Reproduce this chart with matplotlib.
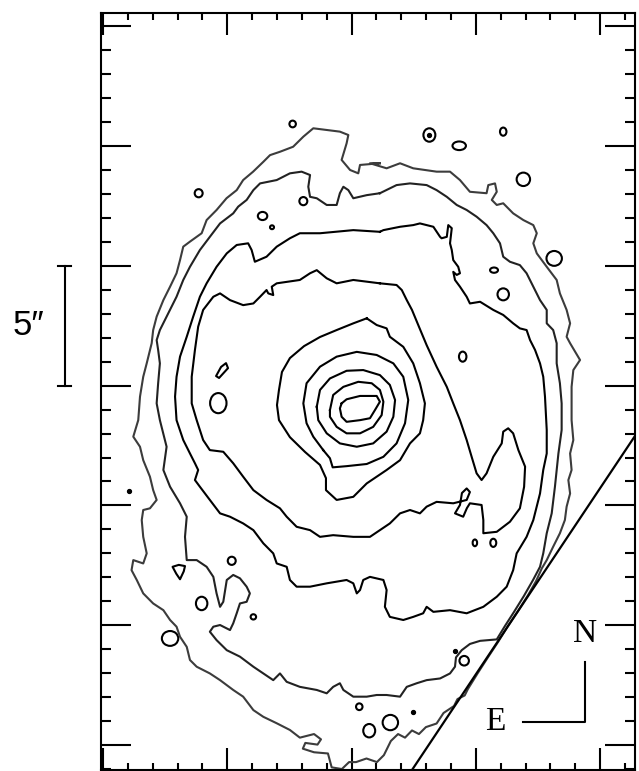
"""
重繪星系等亮度輪廓圖，含 5″ 比例尺與 N/E 方位標示。
座標單位為角秒，刻度每 1″ 一格、每 5″ 一個主刻度。
"""

import matplotlib

matplotlib.use("Agg")
import matplotlib.pyplot as plt
from matplotlib.patches import Ellipse, Polygon
from matplotlib.ticker import MultipleLocator

# 等亮度輪廓（由外到內），每點為 (x, y) 角秒。
LEVEL_1 = [
    (11.14, 24.28), (10.34, 24.21), (10.27, 23.86), (9.94, 24.00), (9.60, 24.42),
    (9.80, 25.11), (9.87, 25.46), (9.53, 25.60), (9.00, 25.67), (8.46, 25.74),
    (8.06, 25.39), (7.65, 24.97), (7.12, 24.76), (6.72, 24.62), (6.45, 24.34),
    (6.04, 23.93), (5.64, 23.58), (5.38, 23.16), (4.97, 22.82), (4.57, 22.33),
    (4.17, 21.91), (3.97, 21.36), (3.50, 21.01), (3.23, 20.80), (3.10, 20.24),
    (2.96, 19.69), (2.70, 19.13), (2.43, 18.57), (2.16, 17.88), (2.02, 17.32),
    (1.96, 16.77), (1.76, 15.93), (1.62, 15.37), (1.49, 14.54), (1.42, 13.56),
    (1.22, 12.87), (1.49, 12.45), (1.62, 11.89), (1.89, 11.20), (2.02, 10.64),
    (2.16, 10.23), (1.89, 9.88), (1.62, 9.81), (1.56, 9.39), (1.62, 8.69),
    (1.76, 8.00), (1.62, 7.58), (1.22, 7.72), (1.15, 7.30), (1.36, 6.89),
    (1.62, 6.33), (2.02, 5.91), (2.43, 5.63), (2.70, 5.22), (2.96, 4.94),
    (3.10, 4.52), (3.37, 4.10), (3.50, 3.55), (3.77, 3.27), (4.30, 2.99),
    (4.71, 2.71), (5.24, 2.30), (5.64, 2.02), (6.05, 1.46), (6.45, 1.18),
    (6.99, 0.91), (7.52, 0.63), (7.92, 0.31), (8.49, 0.46), (8.77, 0.24),
    (8.63, 0.02), (8.14, 0.09), (8.04, -0.15), (8.49, -0.30), (9.05, -0.35),
    (9.20, -0.93), (9.61, -1.00), (9.90, -0.71), (10.18, -0.71), (10.60, -0.56),
    (11.02, -0.71), (11.30, -0.42), (11.58, 0.17), (11.87, 0.46), (12.15, 0.31),
    (12.43, 0.61), (12.71, 0.46), (12.99, 0.75), (13.42, 0.90), (13.70, 1.34),
    (14.12, 1.63), (14.26, 1.92), (14.55, 2.07), (14.68, 2.34), (15.08, 3.01),
    (15.49, 3.67), (15.89, 4.30), (16.29, 4.97), (16.69, 5.59), (17.10, 6.26),
    (17.42, 6.84), (17.65, 7.37), (17.85, 7.72), (18.11, 8.28), (18.38, 8.84),
    (18.58, 9.39), (18.65, 9.95), (18.79, 10.50), (18.72, 11.06), (18.85, 11.48),
    (18.79, 12.17), (18.92, 12.73), (18.85, 13.56), (18.85, 14.95), (18.92, 15.65),
    (19.19, 16.07), (18.79, 16.77), (18.65, 17.04), (18.79, 17.60), (18.65, 18.16),
    (18.38, 18.85), (18.25, 19.41), (17.85, 19.96), (17.45, 20.52), (17.31, 20.94),
    (17.45, 21.36), (17.31, 21.70), (16.91, 21.91), (16.50, 22.19), (16.10, 22.61),
    (15.84, 22.54), (15.64, 22.75), (15.84, 23.09), (15.77, 23.44), (15.50, 23.37),
    (15.43, 23.03), (14.76, 23.09), (14.36, 23.58), (13.96, 23.93), (13.42, 23.93),
    (12.48, 24.07), (11.95, 24.28), (11.41, 24.07), (10.74, 24.28),
]

LEVEL_2 = [
    (11.14, 23.03), (10.61, 22.95), (10.07, 22.82), (9.87, 23.16), (9.67, 23.30),
    (9.53, 23.03), (9.40, 22.54), (9.00, 22.54), (8.60, 22.82), (8.33, 22.88),
    (8.26, 23.30), (8.33, 23.79), (7.99, 23.93), (7.52, 23.86), (6.99, 23.58),
    (6.32, 23.44), (6.05, 23.16), (5.78, 22.75), (5.44, 22.47), (5.24, 22.19),
    (4.71, 21.77), (4.30, 21.21), (3.90, 20.66), (3.50, 19.96), (3.23, 19.41),
    (2.96, 18.71), (2.56, 17.88), (2.29, 17.32), (2.16, 16.90), (2.22, 16.49),
    (2.29, 15.93), (2.22, 15.10), (2.16, 14.26), (2.29, 13.56), (2.56, 12.45),
    (2.43, 11.48), (2.70, 10.78), (3.10, 10.09), (3.37, 9.53), (3.30, 8.69),
    (3.37, 7.72), (3.77, 7.72), (4.17, 7.44), (4.44, 7.02), (4.57, 6.33),
    (4.71, 5.77), (4.84, 5.98), (4.98, 6.89), (5.24, 7.10), (5.51, 6.96),
    (5.78, 6.61), (5.91, 6.33), (5.78, 5.98), (5.51, 5.91), (5.38, 5.50),
    (5.24, 5.08), (5.11, 4.80), (4.71, 5.01), (4.44, 4.94), (4.30, 4.73),
    (4.57, 4.38), (4.98, 3.96), (5.51, 3.69), (6.05, 3.27), (6.45, 2.99),
    (6.85, 2.71), (7.12, 2.99), (7.39, 2.64), (7.92, 2.43), (8.60, 2.30),
    (9.00, 2.16), (9.26, 2.43), (9.53, 2.58), (9.67, 2.30), (10.07, 2.02),
    (10.61, 2.02), (11.01, 2.09), (11.41, 2.09), (11.95, 2.02), (12.22, 2.43),
    (12.62, 2.58), (13.02, 2.71), (13.56, 2.78), (13.96, 2.99), (14.16, 3.27),
    (14.20, 3.66), (14.43, 3.96), (14.76, 4.22), (15.17, 4.35), (15.84, 4.41),
    (16.17, 4.97), (16.53, 5.55), (16.93, 6.22), (17.30, 6.89), (17.58, 7.44),
    (17.71, 8.00), (17.85, 8.84), (18.05, 9.67), (18.18, 10.78), (18.32, 12.17),
    (18.45, 13.15), (18.45, 14.26), (18.38, 15.10), (18.25, 15.93), (18.25, 16.77),
    (18.11, 17.32), (17.85, 17.60), (17.85, 18.16), (17.58, 18.57), (17.31, 19.13),
    (17.04, 19.69), (16.77, 20.03), (16.37, 20.17), (16.10, 20.38), (15.97, 20.94),
    (15.70, 21.36), (15.43, 21.70), (15.03, 22.05), (14.63, 22.33), (14.23, 22.54),
    (13.83, 22.88), (13.42, 23.16), (13.02, 23.37), (12.35, 23.44), (11.81, 23.37),
]

LEVEL_3 = [
    (11.14, 21.42), (10.07, 21.49), (8.73, 21.36), (7.92, 21.36), (7.52, 21.15),
    (6.99, 20.80), (6.58, 20.38), (6.11, 20.17), (5.98, 20.66), (5.84, 20.94),
    (5.38, 20.87), (4.98, 20.52), (4.57, 19.96), (4.17, 19.27), (3.90, 18.71),
    (3.63, 17.88), (3.37, 17.04), (3.10, 16.21), (2.96, 15.37), (2.90, 14.54),
    (2.96, 13.56), (3.23, 12.73), (3.50, 12.17), (3.70, 11.76), (3.83, 11.48),
    (3.70, 11.06), (3.90, 10.78), (4.30, 10.23), (4.71, 9.67), (5.11, 9.53),
    (5.64, 9.25), (6.05, 8.97), (6.45, 8.42), (6.85, 8.00), (6.99, 7.58),
    (7.39, 7.44), (7.52, 6.89), (7.79, 6.61), (8.33, 6.61), (9.00, 6.75),
    (9.80, 6.89), (10.07, 6.75), (10.21, 6.33), (10.34, 6.47), (10.47, 6.89),
    (10.74, 7.02), (11.28, 6.89), (11.41, 6.47), (11.34, 5.77), (11.54, 5.35),
    (12.08, 5.22), (12.48, 5.35), (12.88, 5.50), (13.02, 5.77), (13.29, 5.56),
    (13.96, 5.63), (14.63, 5.50), (15.30, 5.77), (15.84, 6.19), (16.24, 6.61),
    (16.50, 7.30), (16.64, 8.00), (17.04, 8.69), (17.31, 9.39), (17.58, 10.50),
    (17.71, 11.48), (17.85, 12.17), (17.85, 13.15), (17.78, 14.54), (17.71, 15.37),
    (17.58, 15.93), (17.38, 16.49), (17.18, 16.90), (17.04, 17.32), (16.77, 17.39),
    (16.50, 17.60), (16.10, 17.95), (15.70, 18.16), (15.17, 18.50), (14.76, 18.43),
    (14.63, 18.71), (14.36, 19.13), (14.16, 19.41), (14.09, 19.75), (14.23, 19.62),
    (14.36, 19.69), (14.29, 19.96), (14.09, 20.24), (14.03, 20.66), (13.96, 20.94),
    (14.03, 21.57), (13.89, 21.70), (13.83, 21.21), (13.62, 21.15), (13.56, 21.21),
    (13.29, 21.63), (12.75, 21.77), (12.48, 21.70), (11.95, 21.63), (11.28, 21.49),
]

LEVEL_4 = [
    (11.14, 19.27), (10.07, 19.41), (9.40, 19.27), (9.00, 19.48), (8.60, 19.82),
    (8.33, 19.69), (7.92, 19.41), (6.99, 19.27), (6.79, 19.13), (6.85, 18.78),
    (6.65, 18.85), (6.58, 18.99), (6.32, 18.71), (6.05, 18.43), (5.64, 18.36),
    (5.11, 18.57), (4.71, 18.85), (4.44, 18.71), (4.03, 18.16), (3.83, 17.46),
    (3.70, 16.49), (3.57, 15.37), (3.57, 14.26), (3.77, 13.56), (4.03, 12.73),
    (4.30, 12.31), (4.84, 12.24), (5.24, 11.76), (5.64, 11.20), (6.05, 10.64),
    (6.58, 10.23), (7.12, 9.88), (7.39, 9.53), (7.79, 9.11), (8.33, 8.97),
    (8.73, 8.69), (9.26, 8.76), (10.07, 8.69), (10.74, 8.69), (11.14, 8.97),
    (11.54, 9.25), (11.95, 9.67), (12.35, 9.81), (12.75, 9.67), (13.02, 9.95),
    (13.42, 10.15), (14.09, 10.09), (14.63, 10.23), (14.76, 10.56), (14.63, 10.71),
    (14.44, 10.52), (14.36, 10.02), (14.16, 9.67), (14.49, 9.53), (14.64, 9.89),
    (14.76, 10.09), (15.23, 10.02), (15.30, 9.39), (15.30, 8.84), (15.84, 8.90),
    (16.37, 9.32), (16.77, 9.88), (16.94, 10.78), (16.98, 11.62), (16.71, 12.31),
    (16.50, 13.01), (16.30, 13.22), (16.10, 13.08), (16.04, 12.59), (15.70, 12.03),
    (15.43, 11.34), (15.23, 11.06), (15.03, 11.34), (14.83, 12.03), (14.63, 12.73),
    (14.36, 13.56), (14.09, 14.26), (13.83, 14.95), (13.42, 15.79), (13.02, 16.69),
    (12.71, 17.46), (12.43, 18.16), (12.22, 18.57), (12.02, 18.99), (11.81, 19.20),
]

LEVEL_5 = [
    (10.61, 17.81), (10.07, 17.60), (9.40, 17.32), (8.73, 17.03), (8.09, 16.65),
    (7.52, 16.15), (7.20, 15.57), (7.08, 14.82), (7.00, 14.19), (7.08, 13.56),
    (7.52, 12.85), (8.13, 12.23), (8.73, 11.69), (8.97, 11.14), (8.97, 10.64),
    (9.40, 10.23), (10.07, 10.36), (10.61, 10.92), (11.41, 11.48), (11.95, 11.89),
    (12.35, 12.59), (12.75, 13.01), (12.88, 13.56), (12.95, 14.26), (12.75, 15.10),
    (12.48, 15.93), (12.08, 16.62), (11.54, 17.04), (11.41, 17.39), (11.01, 17.53),
]

LEVEL_6 = [
    (8.86, 12.31), (9.13, 11.97), (9.24, 11.59), (9.80, 11.64), (10.61, 11.73),
    (11.28, 12.03), (11.81, 12.59), (12.15, 13.43), (12.28, 14.40), (12.08, 15.37),
    (11.68, 15.93), (11.01, 16.28), (10.21, 16.41), (9.40, 16.21), (8.73, 15.79),
    (8.19, 15.10), (8.06, 14.26), (8.19, 13.43), (8.46, 12.87),
]

LEVEL_7 = [
    (8.60, 14.12), (8.73, 14.82), (9.13, 15.30), (9.80, 15.62), (10.47, 15.65),
    (11.14, 15.44), (11.54, 15.03), (11.75, 14.40), (11.68, 13.70), (11.41, 13.08),
    (10.87, 12.59), (10.21, 12.45), (9.53, 12.59), (9.00, 13.01), (8.66, 13.56),
]

LEVEL_8 = [
    (9.13, 13.98), (9.26, 14.61), (9.67, 14.95), (10.27, 15.16), (10.81, 15.10),
    (11.14, 14.82), (11.28, 14.33), (11.21, 13.77), (10.87, 13.28), (10.34, 13.01),
    (9.80, 13.01), (9.40, 13.28), (9.13, 13.70),
]

LEVEL_9 = [
    (9.60, 14.26), (9.80, 14.43), (10.34, 14.57), (11.01, 14.57), (11.14, 14.33),
    (10.94, 13.98), (10.74, 13.64), (10.34, 13.56), (9.80, 13.49), (9.60, 13.70),
    (9.53, 14.05),
]

# 零星小輪廓（近似橢圓）：中心與半徑（角秒）。
ISLAND_X = [7.63, 3.85, 6.42, 6.80, 4.64, 13.13, 16.10, 14.33, 16.91, 18.15,
            15.73, 16.10, 14.47, 8.06, 5.18, 3.97, 6.05, 2.70, 10.31, 10.71,
            11.56, 14.96, 15.70, 14.53]
ISLAND_Y = [25.92, 23.03, 22.08, 21.61, 14.27, 25.46, 25.60, 25.01, 23.61, 20.31,
            19.82, 18.81, 16.21, 22.70, 7.69, 5.91, 5.35, 4.45, 1.60, 0.60,
            0.94, 8.44, 8.44, 3.52]
ISLAND_RX = [0.13, 0.16, 0.19, 0.08, 0.33, 0.24, 0.13, 0.27, 0.27, 0.31,
             0.16, 0.23, 0.15, 0.16, 0.16, 0.23, 0.11, 0.33, 0.13, 0.24,
             0.31, 0.09, 0.12, 0.19]
ISLAND_RY = [0.14, 0.17, 0.17, 0.08, 0.42, 0.28, 0.17, 0.18, 0.28, 0.31,
             0.11, 0.25, 0.21, 0.17, 0.17, 0.28, 0.11, 0.31, 0.14, 0.28,
             0.32, 0.14, 0.17, 0.20]

# 形狀不規則的小輪廓。
BLOB_ELONGATED = [(4.55, 15.40), (4.67, 15.32), (5.03, 15.73), (4.95, 15.94), (4.75, 15.78)]
BLOB_TRIANGLE = [(2.80, 7.44), (3.05, 7.52), (3.30, 7.47), (3.25, 7.25), (3.10, 6.92), (2.95, 7.15)]

# 實心小點。
DOT_X = [13.13, 1.05, 12.46, 14.16]
DOT_Y = [25.46, 10.61, 1.40, 3.94]

# 偵測器視野邊界（直線）。
EDGE_X = [12.43, 21.56]
EDGE_Y = [-1.04, 13.15]

SCALE_BAR_ARCSEC = 5.0
SCALE_BAR_BOTTOM = 15.0
COMPASS_ORIGIN = (19.39, 0.96)
COMPASS_ARM = 2.5

LINE_WIDTH = 1.5


def draw_contour(ax, points, color="black", lw=LINE_WIDTH) -> None:
    """將一條封閉輪廓畫上座標軸。"""
    xs = [p[0] for p in points] + [points[0][0]]
    ys = [p[1] for p in points] + [points[0][1]]
    ax.plot(xs, ys, color=color, lw=lw, solid_joinstyle="round")


def main() -> None:
    fig = plt.figure(figsize=(6.39, 7.71), dpi=100)
    ax = fig.add_axes([0.158, 0.0013, 0.8365, 0.9818])

    # 外圍兩層在原圖中偏灰。
    draw_contour(ax, LEVEL_1, color="#3c3c3c")
    draw_contour(ax, LEVEL_2, color="#222222")
    for level in (LEVEL_3, LEVEL_4, LEVEL_5, LEVEL_6, LEVEL_7, LEVEL_8, LEVEL_9):
        draw_contour(ax, level)

    for x, y, rx, ry in zip(ISLAND_X, ISLAND_Y, ISLAND_RX, ISLAND_RY):
        ax.add_patch(Ellipse((x, y), 2 * rx, 2 * ry, fill=False,
                             edgecolor="black", lw=LINE_WIDTH))
    for blob in (BLOB_ELONGATED, BLOB_TRIANGLE):
        ax.add_patch(Polygon(blob, closed=True, fill=False,
                             edgecolor="black", lw=LINE_WIDTH, joinstyle="round"))
    ax.plot(DOT_X, DOT_Y, "o", color="black", ms=2.8)

    ax.plot(EDGE_X, EDGE_Y, color="black", lw=1.6)

    ax.set_xlim(-0.08, 21.42)
    ax.set_ylim(-1.04, 30.55)

    # 四邊朝內的刻度：主刻度 5″、次刻度 1″。
    for axis in (ax.xaxis, ax.yaxis):
        axis.set_major_locator(MultipleLocator(5))
        axis.set_minor_locator(MultipleLocator(1))
    ax.tick_params(which="both", direction="in", top=True, right=True,
                   labelbottom=False, labelleft=False, width=1.5, color="black")
    ax.tick_params(axis="x", which="major", length=16)
    ax.tick_params(axis="x", which="minor", length=5)
    ax.tick_params(axis="y", which="major", length=21.5)
    ax.tick_params(axis="y", which="minor", length=7)
    for spine in ax.spines.values():
        spine.set_linewidth(1.5)

    # 左側 5″ 比例尺。
    bar_x = -1.53
    bar_top = SCALE_BAR_BOTTOM + SCALE_BAR_ARCSEC
    ax.plot([bar_x, bar_x], [SCALE_BAR_BOTTOM, bar_top], color="black",
            lw=1.5, clip_on=False)
    for yy in (SCALE_BAR_BOTTOM, bar_top):
        ax.plot([bar_x - 0.26, bar_x + 0.26], [yy, yy], color="black",
                lw=1.5, clip_on=False)
    ax.text(-3.0, SCALE_BAR_BOTTOM + SCALE_BAR_ARCSEC / 2, "5\u2033",
            ha="center", va="center", fontsize=25,
            family=["Liberation Sans", "DejaVu Sans"])

    # 方位標示 N / E。
    cx, cy = COMPASS_ORIGIN
    ax.plot([cx - COMPASS_ARM, cx, cx], [cy, cy, cy + COMPASS_ARM],
            color="black", lw=1.5)
    ax.text(cx, cy + COMPASS_ARM + 1.2, "N", ha="center", va="center",
            fontsize=24, family=["Liberation Serif", "DejaVu Serif"])
    ax.text(cx - COMPASS_ARM - 1.1, cy, "E", ha="center", va="center",
            fontsize=24, family=["Liberation Serif", "DejaVu Serif"])

    fig.savefig("out.png", dpi=100)
    plt.close(fig)


if __name__ == "__main__":
    main()
